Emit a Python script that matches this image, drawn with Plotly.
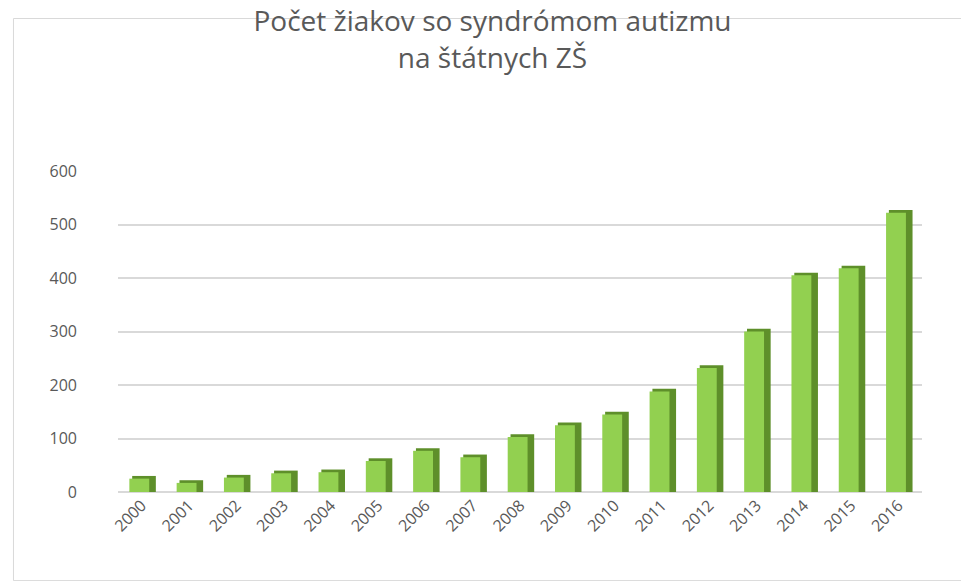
import plotly.graph_objects as go

roky = [str(r) for r in range(2000, 2017)]
pocet = [25, 17, 27, 35, 37, 58, 77, 65, 103, 125, 145, 188, 232, 300, 405, 418, 522]

fig = go.Figure()

# tmavsia bocna stena (imitacia 3D stlpca)
fig.add_trace(go.Bar(
    x=roky, y=[v + 5 for v in pocet],
    width=0.5, offset=-0.2,
    marker=dict(color="#5E8F2A", line=dict(width=0)),
    hoverinfo="skip", showlegend=False
))
# predna stena
fig.add_trace(go.Bar(
    x=roky, y=pocet,
    width=0.42, offset=-0.26,
    marker=dict(color="#92D050", line=dict(width=0)),
    showlegend=False
))

fig.update_layout(
    barmode="overlay",
    width=969, height=581,
    paper_bgcolor="white", plot_bgcolor="white",
    font=dict(family="Open Sans", color="#595959", size=16),
    title=dict(
        text="Počet žiakov so syndrómom autizmu<br>na štátnych ZŠ",
        x=0.5, xanchor="center", y=0.96, yanchor="top",
        font=dict(size=28, color="#595959")
    ),
    margin=dict(l=110, r=55, t=163, b=97),
    xaxis=dict(tickangle=-45, showgrid=False, showline=False, ticks="",
               tickfont=dict(size=16)),
    yaxis=dict(range=[0, 600], dtick=100, gridcolor="#D9D9D9", gridwidth=1.5,
               zeroline=True, zerolinecolor="#D9D9D9", ticks="",
               ticklabelstandoff=40, tickfont=dict(size=16)),
    shapes=[dict(type="rect", xref="paper", yref="paper",
                 x0=-0.13, x1=1.058, y0=-0.276, y1=1.475,
                 line=dict(color="#D9D9D9", width=1))]
)

fig.write_html("out.html")
